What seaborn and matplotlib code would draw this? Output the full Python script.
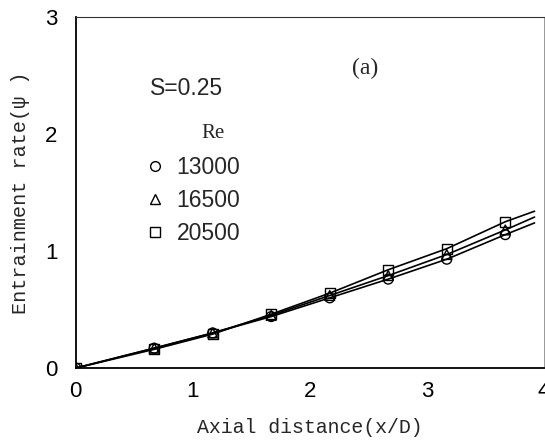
import matplotlib
matplotlib.use("Agg")
import matplotlib.pyplot as plt
import seaborn as sns
import pandas as pd
from matplotlib.lines import Line2D

x_pts = [0.0, 0.67, 1.17, 1.67, 2.17, 2.67, 3.17, 3.67]
re_13000 = [0.0, 0.17, 0.30, 0.44, 0.60, 0.76, 0.93, 1.14]
re_16500 = [0.0, 0.17, 0.30, 0.45, 0.62, 0.79, 0.97, 1.18]
re_20500 = [0.0, 0.16, 0.29, 0.46, 0.64, 0.84, 1.02, 1.25]
x_end = 3.92
end_vals = [1.24, 1.29, 1.34]
labels = ["13000", "16500", "20500"]
markers = ["o", "^", "s"]

rows = []
lrows = []
for lab, ys, ye in zip(labels, [re_13000, re_16500, re_20500], end_vals):
    for xv, yv in zip(x_pts, ys):
        rows.append((xv, yv, lab))
        lrows.append((xv, yv, lab))
    lrows.append((x_end, ye, lab))
df = pd.DataFrame(rows, columns=["x", "y", "Re"])
dfl = pd.DataFrame(lrows, columns=["x", "y", "Re"])

sns.set_theme(style="white")
fig = plt.figure(figsize=(5.45, 4.44), dpi=100)
ax = fig.add_axes([0.139, 0.171, 0.859, 0.791])

sns.lineplot(data=dfl, x="x", y="y", hue="Re", palette=["black"] * 3,
             linewidth=1.2, legend=False, ax=ax, sort=True)
for lab, m in zip(labels, markers):
    sub = df[df["Re"] == lab]
    sns.scatterplot(data=sub, x="x", y="y", marker=m, s=50,
                    facecolor="none", edgecolor="black", linewidth=1.0,
                    legend=False, ax=ax, zorder=3)

ax.set_xlim(0, 4)
ax.set_ylim(0, 3)
ax.set_xticks([0, 1, 2, 3, 4])
ax.set_yticks([0, 1, 2, 3])
ax.tick_params(direction="in", length=7, width=0.9, labelsize=16, colors="black",
               top=False, right=False)
ax.tick_params(axis="x", pad=9)
ax.tick_params(axis="y", pad=13)
for lbl in ax.get_xticklabels() + ax.get_yticklabels():
    lbl.set_family("Liberation Sans")
for sp in ax.spines.values():
    sp.set_color("black")
    sp.set_linewidth(1.3)
ax.spines["top"].set_linewidth(0.8)
ax.spines["top"].set_color("#333333")
ax.spines["right"].set_linewidth(0.6)
ax.spines["right"].set_color("#888888")

ax.set_xlabel("Axial distance(x/D)", family="Liberation Mono", fontsize=14.3, labelpad=12)
ax.set_ylabel("Entrainment rate(ψ )", family="Liberation Mono", fontsize=14.5, labelpad=11)

ax.text(0.63, 2.39, "S=0.25", family="Liberation Sans", fontsize=16.5, va="center", ha="left")
ax.text(2.47, 2.56, "(a)", family="Liberation Serif", fontsize=17, va="center", ha="center")
ax.text(1.17, 2.0, "Re", family="Liberation Serif", fontsize=15, va="center", ha="center")

handles = [Line2D([], [], marker=m, linestyle="none", markerfacecolor="none",
                  markeredgecolor="black", markersize=7, markeredgewidth=1.0)
           for m in markers]
leg = ax.legend(handles, labels, loc="upper left",
                bbox_to_anchor=(0.144, 0.604), frameon=False,
                prop={"family": "Liberation Sans", "size": 16.5},
                handletextpad=0.46, labelspacing=0.44, borderaxespad=0,
                borderpad=0, handlelength=1.0)

fig.savefig("out.png", dpi=100)
